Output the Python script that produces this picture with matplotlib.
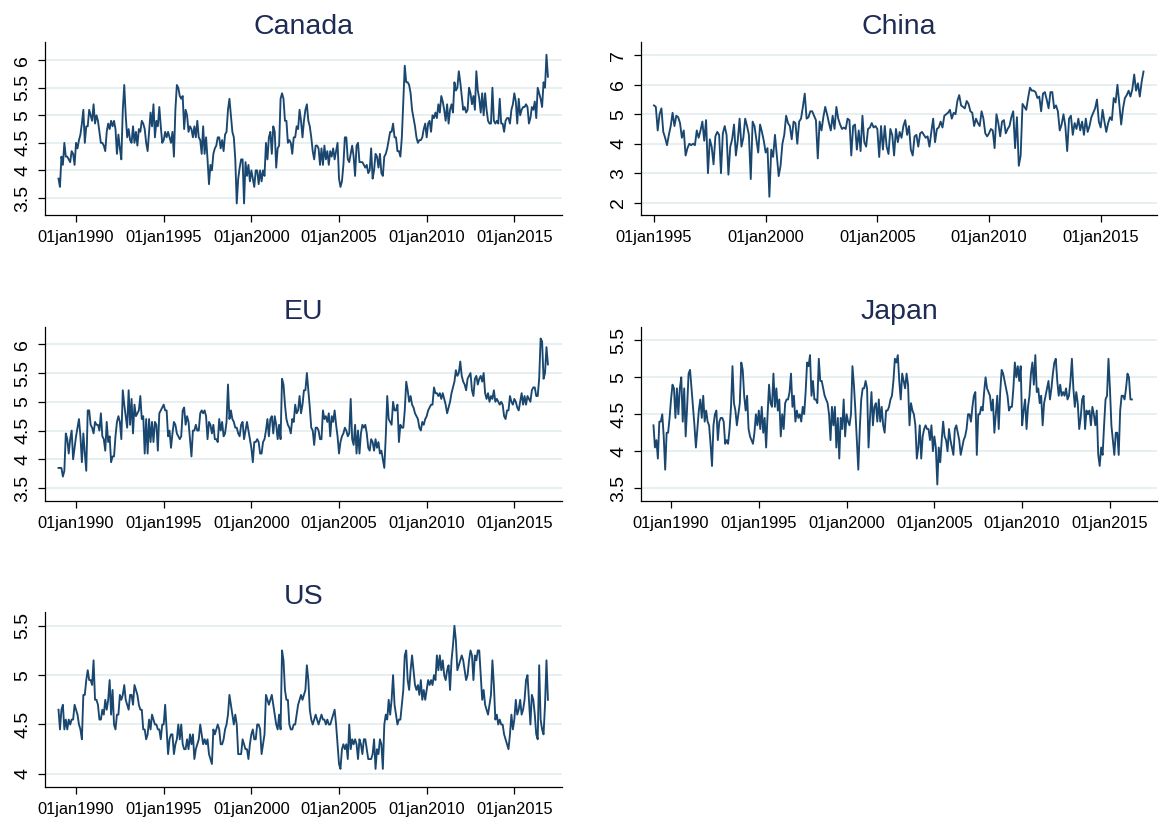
import numpy as np
import pandas as pd
import matplotlib
matplotlib.use("Agg")
import matplotlib.pyplot as plt

plt.rcParams['font.family'] = ['Liberation Sans', 'DejaVu Sans']

# monthly series (one row per year)
canada = [
    3.85, 3.7, 4.25, 4.1, 4.5, 4.25, 4.25, 4.2, 4.15, 4.35, 4.3, 4.1,      # 1989
    4.5, 4.4, 4.55, 4.65, 4.85, 5.1, 4.5, 4.8, 4.8, 5.1, 5.0, 4.9,        # 1990
    5.2, 4.85, 5.0, 4.9, 4.7, 4.5, 4.5, 4.45, 4.35, 4.7, 4.85, 4.75,      # 1991
    4.9, 4.8, 4.9, 4.75, 4.3, 4.65, 4.4, 4.2, 5.1, 5.55, 5.0, 4.6,        # 1992
    4.75, 4.55, 4.5, 4.8, 4.5, 4.7, 4.45, 4.75, 4.7, 4.9, 4.85, 4.75,     # 1993
    4.5, 4.35, 4.7, 5.05, 4.8, 5.2, 4.6, 4.9, 4.8, 5.15, 4.8, 4.5,        # 1994
    4.55, 4.7, 4.6, 4.7, 4.6, 4.5, 4.7, 4.25, 5.1, 5.55, 5.5, 5.35,       # 1995
    5.3, 5.35, 4.75, 5.1, 5.0, 4.7, 4.8, 4.75, 4.6, 4.8, 4.6, 4.9,        # 1996
    4.6, 4.55, 4.3, 4.8, 4.3, 4.6, 4.2, 3.75, 4.1, 4.0, 4.3, 4.4,         # 1997
    4.45, 4.6, 4.6, 4.4, 4.55, 4.35, 4.65, 4.7, 5.1, 5.3, 5.0, 4.7,       # 1998
    4.6, 4.2, 3.4, 3.85, 4.05, 4.2, 4.2, 3.4, 4.15, 3.9, 4.1, 3.8,        # 1999
    4.0, 3.85, 3.7, 4.0, 4.0, 3.75, 4.0, 3.8, 4.0, 3.9, 4.5, 4.2,         # 2000
    4.6, 4.7, 4.3, 4.8, 4.7, 4.05, 4.4, 4.45, 5.3, 5.4, 5.3, 4.9,         # 2001
    4.9, 4.5, 4.55, 4.5, 4.3, 4.6, 4.6, 4.8, 4.75, 5.1, 4.9, 4.6,         # 2002
    4.9, 5.1, 5.2, 4.9, 4.8, 4.6, 4.35, 4.2, 4.45, 4.45, 4.4, 4.1,        # 2003
    4.4, 4.1, 4.45, 4.2, 4.35, 4.1, 4.35, 4.25, 4.4, 4.2, 4.35, 4.5,      # 2004
    3.85, 3.7, 3.8, 4.1, 4.6, 4.6, 4.2, 4.15, 4.3, 4.45, 4.25, 3.9,       # 2005
    4.45, 4.5, 4.15, 4.15, 4.15, 4.1, 4.05, 4.1, 3.95, 4.0, 4.4, 3.85,    # 2006
    4.0, 4.3, 4.25, 4.05, 4.3, 3.95, 3.9, 4.25, 4.3, 4.4, 4.55, 4.7,      # 2007
    4.7, 4.85, 4.6, 4.6, 4.35, 4.35, 4.25, 4.6, 5.25, 5.9, 5.6, 5.6,      # 2008
    5.55, 5.4, 5.1, 4.95, 4.8, 4.6, 4.5, 4.55, 4.55, 4.6, 4.75, 4.85,     # 2009
    4.6, 4.85, 4.9, 4.7, 5.0, 4.95, 5.05, 4.95, 5.2, 5.05, 5.35, 5.25,    # 2010
    5.1, 4.9, 5.2, 4.85, 5.1, 5.2, 5.05, 5.6, 5.45, 5.5, 5.8, 5.6,        # 2011
    5.35, 5.1, 5.15, 5.05, 5.1, 5.5, 5.4, 5.2, 5.35, 5.1, 5.8, 5.45,      # 2012
    5.3, 5.05, 5.4, 5.0, 5.4, 5.1, 4.9, 4.85, 4.85, 5.5, 4.9, 4.85,       # 2013
    4.9, 4.85, 5.3, 4.85, 4.85, 4.7, 4.9, 4.95, 4.95, 4.85, 5.1, 5.2,     # 2014
    5.4, 5.25, 4.85, 5.3, 5.0, 5.1, 5.15, 5.15, 5.2, 5.15, 4.85, 4.95,    # 2015
    5.15, 5.1, 5.25, 4.95, 5.5, 5.4, 5.3, 5.15, 5.6, 5.5, 6.1, 5.7,       # 2016
]

china = [
    5.3, 5.25, 4.45, 5.0, 5.2, 4.4, 4.2, 3.95, 4.3, 4.6, 5.05, 4.6,       # 1995
    4.95, 4.9, 4.7, 4.2, 4.45, 3.6, 3.85, 4.0, 3.95, 4.0, 3.95, 4.45,     # 1996
    4.2, 4.45, 4.75, 4.1, 4.8, 3.0, 4.15, 3.9, 3.3, 4.25, 4.4, 4.3,       # 1997
    3.0, 4.35, 4.6, 4.3, 2.95, 3.9, 4.15, 4.65, 3.6, 4.1, 4.85, 3.9,      # 1998
    4.2, 4.85, 4.6, 4.3, 2.8, 4.75, 4.6, 4.15, 3.7, 4.65, 4.4, 4.1,       # 1999
    3.7, 3.85, 2.2, 3.8, 3.55, 4.3, 3.6, 2.9, 3.25, 4.0, 4.3, 4.95,       # 2000
    4.7, 4.6, 4.15, 4.75, 4.7, 4.0, 4.75, 4.85, 5.25, 5.7, 4.85, 4.9,     # 2001
    5.1, 5.1, 4.95, 4.8, 3.5, 4.75, 4.45, 4.9, 5.25, 5.0, 4.7, 4.45,      # 2002
    4.95, 4.5, 5.25, 4.85, 4.65, 4.5, 4.55, 4.5, 4.85, 4.8, 3.6, 4.6,     # 2003
    4.65, 3.8, 4.45, 3.75, 4.95, 4.05, 3.9, 4.5, 4.55, 4.7, 4.55, 4.6,    # 2004
    4.5, 3.55, 4.6, 3.8, 4.6, 3.9, 3.65, 4.5, 4.3, 3.6, 4.5, 4.05,        # 2005
    4.4, 4.2, 4.6, 4.8, 4.3, 4.6, 3.8, 3.6, 4.25, 4.3, 3.9, 4.35,         # 2006
    4.4, 4.3, 4.2, 4.25, 3.9, 4.4, 4.85, 4.05, 4.5, 4.55, 4.75, 4.55,     # 2007
    4.95, 5.0, 5.05, 5.15, 4.85, 5.05, 5.0, 5.45, 5.65, 5.3, 5.25, 5.2,   # 2008
    5.45, 5.35, 5.1, 5.05, 4.6, 4.85, 4.7, 4.6, 5.1, 4.85, 4.35, 4.25,    # 2009
    4.35, 4.5, 4.45, 3.85, 5.0, 4.7, 4.25, 4.75, 4.8, 4.35, 4.5, 4.6,     # 2010
    4.9, 5.1, 3.85, 4.9, 3.25, 3.6, 5.35, 5.25, 5.15, 5.55, 5.9, 5.8,     # 2011
    5.8, 5.75, 5.55, 5.6, 5.1, 5.7, 5.75, 5.5, 5.2, 5.75, 5.75, 5.2,      # 2012
    5.3, 5.1, 4.45, 4.65, 5.0, 4.6, 3.75, 4.85, 4.95, 4.3, 4.7, 4.5,      # 2013
    4.85, 4.45, 4.75, 4.3, 4.85, 4.4, 4.6, 4.9, 5.05, 5.2, 5.5, 4.75,     # 2014
    4.55, 5.15, 4.75, 4.4, 4.7, 4.9, 4.8, 5.55, 5.4, 6.0, 5.35, 4.65,     # 2015
    5.2, 5.55, 5.65, 5.8, 5.6, 5.85, 6.35, 5.8, 6.05, 5.6, 6.1, 6.45,     # 2016
]

eu = [
    3.85, 3.85, 3.85, 3.7, 3.8, 4.45, 4.35, 4.1, 4.35, 4.5, 4.0, 4.2,     # 1989
    4.4, 4.55, 4.7, 4.4, 3.95, 4.45, 4.1, 3.8, 4.85, 4.85, 4.6, 4.55,     # 1990
    4.45, 4.65, 4.6, 4.6, 4.5, 4.8, 4.4, 4.35, 4.15, 4.65, 4.3, 4.4,      # 1991
    3.95, 4.05, 4.05, 4.4, 4.65, 4.75, 4.65, 4.35, 5.2, 4.95, 4.75, 4.55, # 1992
    5.2, 4.6, 5.05, 4.45, 4.95, 4.75, 4.8, 4.85, 5.1, 4.7, 4.75, 4.1,     # 1993
    4.7, 4.1, 4.7, 4.3, 4.65, 4.3, 4.65, 4.6, 4.15, 4.8, 4.85, 4.9,       # 1994
    4.95, 4.85, 4.85, 4.4, 4.5, 4.2, 4.45, 4.65, 4.6, 4.45, 4.4, 4.35,    # 1995
    4.4, 4.85, 4.9, 4.6, 4.75, 4.65, 4.35, 4.05, 4.5, 4.5, 4.6, 4.5,      # 1996
    4.5, 4.8, 4.85, 4.8, 4.85, 4.75, 4.35, 4.65, 4.6, 4.45, 4.6, 4.35,    # 1997
    4.35, 4.3, 4.7, 4.5, 4.65, 4.4, 4.45, 4.65, 5.3, 4.7, 4.85, 4.7,      # 1998
    4.65, 4.55, 4.55, 4.45, 4.4, 4.6, 4.65, 4.35, 4.5, 4.65, 4.5, 4.35,   # 1999
    4.2, 3.95, 4.3, 4.3, 4.35, 4.3, 4.1, 4.1, 4.3, 4.35, 4.5, 4.7,        # 2000
    4.4, 4.7, 4.75, 4.45, 4.75, 4.6, 4.35, 4.6, 4.35, 5.4, 5.3, 4.95,     # 2001
    4.7, 4.6, 4.55, 4.45, 4.7, 4.65, 4.95, 4.8, 4.85, 5.1, 4.8, 4.95,     # 2002
    5.2, 5.2, 5.5, 5.2, 4.9, 4.55, 4.5, 4.25, 4.55, 4.55, 4.5, 4.35,      # 2003
    4.35, 4.85, 4.7, 4.75, 4.65, 4.8, 4.4, 4.75, 4.65, 4.85, 4.6, 4.4,    # 2004
    4.1, 4.3, 4.4, 4.45, 4.55, 4.5, 4.4, 4.45, 5.05, 4.35, 4.25, 4.6,     # 2005
    4.1, 4.5, 4.1, 4.45, 4.6, 4.55, 4.6, 4.45, 4.2, 4.15, 4.35, 4.3,      # 2006
    4.15, 4.35, 4.2, 4.3, 4.1, 4.15, 4.0, 3.85, 4.4, 5.1, 4.7, 4.65,      # 2007
    4.6, 5.0, 4.85, 4.85, 4.95, 4.3, 4.6, 4.55, 4.55, 4.85, 5.35, 5.2,    # 2008
    5.0, 5.1, 4.95, 4.9, 4.8, 4.75, 4.7, 4.55, 4.5, 4.65, 4.6, 4.7,       # 2009
    4.75, 4.85, 4.9, 4.95, 4.95, 5.25, 5.15, 5.15, 5.1, 5.15, 5.05, 5.15, # 2010
    5.05, 4.95, 4.8, 4.9, 5.0, 5.15, 5.25, 5.35, 5.55, 5.45, 5.5, 5.7,    # 2011
    5.45, 5.35, 5.3, 5.2, 5.4, 5.45, 5.5, 5.2, 5.1, 5.4, 5.45, 5.3,       # 2012
    5.4, 5.45, 5.35, 5.5, 5.15, 5.05, 5.15, 5.0, 5.1, 5.05, 5.2, 5.0,     # 2013
    5.05, 5.0, 4.95, 5.0, 4.95, 4.75, 4.7, 4.85, 4.85, 5.1, 5.0, 4.95,    # 2014
    5.05, 5.0, 4.9, 4.85, 5.0, 5.15, 4.95, 5.1, 4.95, 5.1, 5.05, 5.0,     # 2015
    5.2, 5.25, 5.25, 5.1, 5.1, 5.4, 6.1, 6.05, 5.4, 5.5, 5.95, 5.65,      # 2016
]

japan = [
    4.35, 4.05, 4.15, 3.9, 4.4, 4.4, 4.5, 4.2, 3.75, 4.25, 4.25, 4.45,    # 1989
    4.7, 4.9, 4.85, 4.45, 4.85, 4.5, 4.85, 5.0, 4.4, 4.85, 4.2, 4.6,      # 1990
    5.05, 5.1, 4.85, 4.6, 4.35, 4.05, 4.3, 4.55, 4.7, 4.45, 4.75, 4.4,    # 1991
    4.55, 4.4, 4.35, 4.1, 3.8, 4.35, 4.5, 4.55, 4.15, 4.4, 4.45, 4.45,    # 1992
    4.4, 4.1, 4.15, 4.1, 4.3, 4.6, 5.15, 4.65, 4.55, 4.35, 4.5, 4.65,     # 1993
    5.2, 5.1, 4.75, 4.55, 4.75, 4.3, 4.2, 4.15, 4.1, 4.25, 4.5, 4.35,     # 1994
    4.55, 4.3, 4.6, 4.25, 4.45, 4.05, 4.5, 4.9, 4.65, 4.6, 5.05, 4.6,     # 1995
    4.85, 4.55, 4.7, 4.2, 4.5, 4.3, 4.65, 4.7, 4.7, 4.8, 5.05, 4.6,       # 1996
    4.75, 4.4, 4.55, 4.45, 4.5, 4.4, 4.6, 4.5, 4.8, 5.2, 5.15, 5.3,       # 1997
    4.75, 4.95, 4.7, 4.7, 4.65, 5.25, 4.95, 4.95, 4.85, 4.75, 4.7, 4.65,  # 1998
    4.5, 4.15, 4.6, 4.35, 4.6, 4.05, 4.45, 3.9, 4.45, 4.3, 4.7, 4.2,      # 1999
    4.5, 4.4, 4.35, 4.5, 5.15, 4.9, 4.55, 4.15, 3.75, 4.3, 4.7, 4.85,     # 2000
    4.85, 4.95, 4.85, 4.05, 4.45, 4.8, 4.35, 4.6, 4.65, 4.4, 4.7, 4.4,    # 2001
    4.6, 4.35, 4.25, 4.55, 4.55, 4.6, 4.7, 4.75, 4.95, 5.25, 5.2, 5.3,    # 2002
    4.95, 4.7, 5.05, 4.95, 4.85, 5.05, 4.9, 4.35, 4.65, 4.55, 4.5, 4.35,  # 2003
    3.9, 4.05, 4.35, 3.9, 4.2, 4.3, 4.35, 4.3, 4.3, 4.15, 4.35, 4.0,      # 2004
    4.2, 4.05, 3.55, 4.05, 3.85, 4.15, 4.4, 4.2, 4.15, 4.0, 4.3, 4.15,    # 2005
    4.05, 3.95, 4.3, 4.35, 4.25, 4.15, 3.95, 4.05, 4.15, 4.2, 4.3, 4.5,   # 2006
    4.5, 4.4, 4.6, 4.75, 4.8, 3.95, 4.5, 4.5, 4.6, 4.55, 4.8, 5.0,        # 2007
    4.85, 4.8, 4.75, 4.55, 4.7, 4.25, 4.5, 4.75, 4.3, 4.8, 5.1, 5.05,     # 2008
    4.95, 4.85, 4.75, 4.55, 4.6, 4.6, 4.85, 5.2, 5.0, 5.15, 4.95, 5.15,   # 2009
    4.35, 4.55, 4.7, 4.3, 4.6, 4.75, 5.05, 5.2, 4.9, 5.3, 4.8, 4.85,      # 2010
    4.65, 4.75, 4.35, 4.65, 4.75, 4.85, 4.95, 4.7, 4.85, 5.05, 5.2, 5.25, # 2011
    4.95, 4.75, 4.9, 4.75, 4.8, 4.75, 4.85, 4.7, 4.75, 4.95, 5.25, 4.85,  # 2012
    4.6, 4.8, 4.65, 4.3, 4.45, 4.7, 4.75, 4.3, 4.55, 4.5, 4.55, 4.35,     # 2013
    4.6, 4.5, 4.35, 4.55, 3.95, 3.8, 4.05, 3.95, 4.35, 4.7, 4.75, 5.25,   # 2014
    4.85, 4.35, 4.15, 3.95, 4.25, 4.25, 3.95, 4.55, 4.75, 4.75, 4.7, 4.85,# 2015
    5.05, 5.0, 4.7, 4.7,                                                  # 2016
]

us = [
    4.65, 4.45, 4.65, 4.7, 4.45, 4.55, 4.45, 4.55, 4.5, 4.55, 4.55, 4.7,  # 1989
    4.65, 4.6, 4.5, 4.45, 4.35, 4.8, 4.8, 4.95, 5.05, 4.95, 4.95, 4.9,    # 1990
    5.15, 4.75, 4.75, 4.7, 4.55, 4.55, 4.65, 4.6, 4.75, 4.65, 4.75, 4.95, # 1991
    4.6, 4.85, 4.5, 4.45, 4.6, 4.6, 4.8, 4.75, 4.8, 4.9, 4.75, 4.7,       # 1992
    4.65, 4.8, 4.8, 4.7, 4.9, 4.85, 4.8, 4.7, 4.65, 4.65, 4.45, 4.45,     # 1993
    4.35, 4.4, 4.55, 4.45, 4.6, 4.55, 4.5, 4.5, 4.45, 4.45, 4.35, 4.5,    # 1994
    4.5, 4.7, 4.45, 4.2, 4.35, 4.4, 4.4, 4.2, 4.3, 4.35, 4.5, 4.35,       # 1995
    4.5, 4.3, 4.25, 4.25, 4.35, 4.25, 4.4, 4.3, 4.4, 4.15, 4.25, 4.3,     # 1996
    4.35, 4.5, 4.4, 4.3, 4.35, 4.3, 4.35, 4.2, 4.15, 4.1, 4.45, 4.4,      # 1997
    4.45, 4.5, 4.45, 4.3, 4.3, 4.35, 4.45, 4.5, 4.6, 4.8, 4.7, 4.6,       # 1998
    4.5, 4.6, 4.5, 4.2, 4.2, 4.2, 4.35, 4.3, 4.25, 4.25, 4.15, 4.3,       # 1999
    4.4, 4.45, 4.35, 4.35, 4.5, 4.5, 4.45, 4.2, 4.3, 4.4, 4.8, 4.75,      # 2000
    4.7, 4.75, 4.8, 4.7, 4.6, 4.5, 4.45, 4.6, 4.45, 5.25, 5.15, 4.85,     # 2001
    4.75, 4.75, 4.5, 4.45, 4.45, 4.5, 4.5, 4.6, 4.7, 4.75, 4.8, 4.75,     # 2002
    4.8, 4.85, 5.1, 4.95, 4.65, 4.55, 4.5, 4.55, 4.6, 4.55, 4.5, 4.55,    # 2003
    4.6, 4.55, 4.55, 4.5, 4.55, 4.5, 4.5, 4.55, 4.6, 4.65, 4.5, 4.3,      # 2004
    4.1, 4.05, 4.25, 4.3, 4.25, 4.3, 4.15, 4.5, 4.25, 4.35, 4.3, 4.35,    # 2005
    4.3, 4.15, 4.35, 4.3, 4.2, 4.35, 4.35, 4.25, 4.15, 4.15, 4.15, 4.2,   # 2006
    4.35, 4.05, 4.25, 4.2, 4.35, 4.3, 4.05, 4.5, 4.6, 4.55, 4.75, 4.6,    # 2007
    4.75, 5.0, 4.7, 4.6, 4.5, 4.55, 4.55, 4.7, 4.85, 5.2, 5.25, 4.95,     # 2008
    4.85, 5.05, 5.2, 5.05, 4.9, 4.85, 4.9, 4.8, 4.95, 4.75, 4.85, 4.75,   # 2009
    4.85, 4.95, 4.9, 4.95, 4.9, 5.0, 4.95, 5.2, 5.05, 5.2, 5.05, 5.15,    # 2010
    5.0, 4.95, 5.05, 5.1, 4.85, 5.15, 5.3, 5.5, 5.35, 5.05, 5.1, 5.15,    # 2011
    5.2, 5.15, 5.05, 4.95, 5.0, 5.15, 5.25, 5.2, 4.95, 5.2, 5.15, 5.25,   # 2012
    5.25, 5.0, 4.75, 4.85, 4.7, 4.65, 4.6, 4.7, 4.8, 5.15, 4.9, 4.55,     # 2013
    4.6, 4.5, 4.55, 4.5, 4.5, 4.4, 4.35, 4.3, 4.25, 4.4, 4.6, 4.45,       # 2014
    4.55, 4.75, 4.6, 4.65, 4.75, 4.6, 4.65, 4.75, 4.95, 5.0, 4.75, 4.5,   # 2015
    4.8, 4.75, 4.6, 4.4, 4.35, 5.1, 4.55, 4.45, 4.4, 4.7, 5.15, 4.75,     # 2016
]

titles = ['Canada', 'China', 'EU', 'Japan', 'US']
starts = ['1989-01-01', '1995-01-01', '1989-01-01', '1989-01-01', '1989-01-01']
series = [canada, china, eu, japan, us]
xtick_years = [[1990, 1995, 2000, 2005, 2010, 2015],
               [1995, 2000, 2005, 2010, 2015],
               [1990, 1995, 2000, 2005, 2010, 2015],
               [1990, 1995, 2000, 2005, 2010, 2015],
               [1990, 1995, 2000, 2005, 2010, 2015]]
yticks = [[3.5, 4, 4.5, 5, 5.5, 6],
          [2, 3, 4, 5, 6, 7],
          [3.5, 4, 4.5, 5, 5.5, 6],
          [3.5, 4, 4.5, 5, 5.5],
          [4, 4.5, 5, 5.5]]

# layout (figure fractions) and axis ranges
boxes = [[0.0388, 0.7381, 0.4457, 0.2107],
         [0.5526, 0.7381, 0.4448, 0.2107],
         [0.0388, 0.3901, 0.4457, 0.2116],
         [0.5526, 0.3901, 0.4448, 0.2116],
         [0.0388, 0.0418, 0.4457, 0.2128]]
xlims = [(1988.23, 2017.72), (1994.42, 2017.52), (1988.23, 2017.72),
         (1988.29, 2017.68), (1988.23, 2017.72)]
ylims = [(3.19, 6.33), (1.58, 7.45), (3.28, 6.30), (3.33, 5.68), (3.87, 5.64)]

line_color = '#1a476f'
title_color = '#1e2b55'
grid_color = '#e6eef0'

fig = plt.figure(figsize=(11.6, 8.21), dpi=100)
fig.patch.set_facecolor('white')

for i in range(5):
    ax = fig.add_axes(boxes[i])
    dates = pd.date_range(starts[i], periods=len(series[i]), freq='MS')
    x = dates.year + (dates.month - 1) / 12.0
    ax.plot(x, series[i], color=line_color, linewidth=1.35, solid_joinstyle='round')

    ax.set_xlim(*xlims[i])
    ax.set_ylim(*ylims[i])
    ax.set_xticks(xtick_years[i], ['01jan%d' % y for y in xtick_years[i]])
    ax.set_yticks(yticks[i], ['%g' % t for t in yticks[i]], rotation=90, va='center')

    ax.yaxis.grid(True, color=grid_color, linewidth=1.3)
    ax.set_axisbelow(True)
    for s in ['top', 'right']:
        ax.spines[s].set_visible(False)
    for s in ['left', 'bottom']:
        ax.spines[s].set_linewidth(0.9)
        ax.spines[s].set_color('black')
    ax.tick_params(axis='x', length=5, width=0.9, labelsize=11.8, pad=6)
    ax.tick_params(axis='y', length=5, width=0.9, labelsize=14, pad=5)
    ax.set_title(titles[i], fontsize=20.5, color=title_color, pad=6)

fig.savefig('out.png', dpi=100, facecolor='white')
